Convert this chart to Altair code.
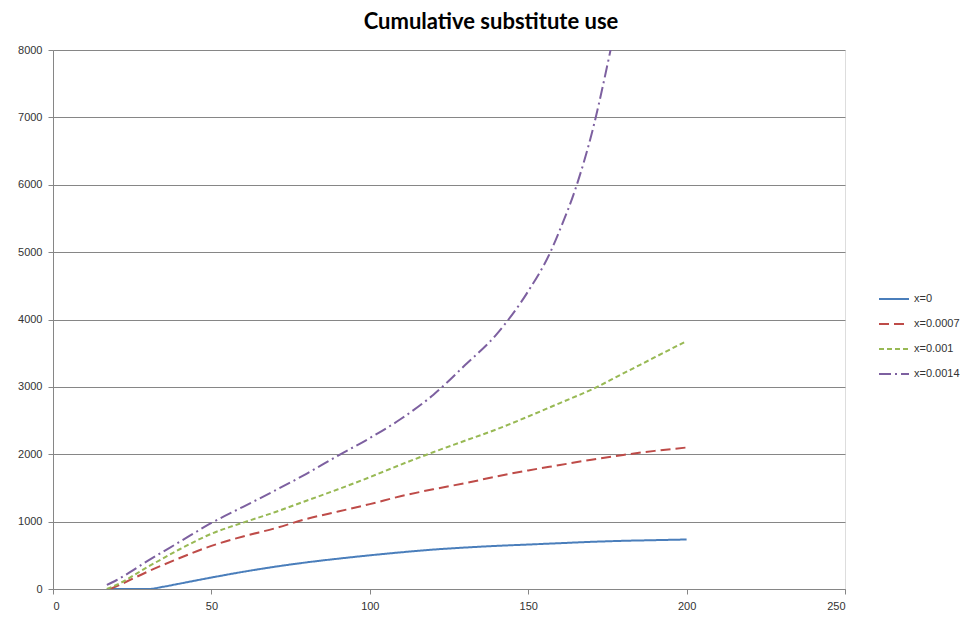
import altair as alt
import pandas as pd

series_names = ["x=0", "x=0.0007", "x=0.001", "x=0.0014"]
colors = ["#4A7EBB", "#BE4B48", "#98B954", "#7D60A0"]
dashes = [[1, 0], [10, 5], [5, 3], [12, 4, 2, 4]]

x0 = [17, 20, 25, 30, 35, 40, 50, 60, 70, 80, 90, 100, 110, 120, 130, 140, 150, 160, 170, 180, 190, 200]
y0 = [0, 0, 0, 0, 35, 80, 170, 255, 330, 395, 450, 500, 545, 585, 615, 640, 660, 680, 700, 715, 725, 735]

x1 = [18, 20, 30, 40, 50, 60, 70, 80, 90, 100, 110, 120, 130, 140, 150, 160, 170, 180, 190, 200]
y1 = [0, 40, 260, 460, 640, 780, 900, 1040, 1150, 1260, 1380, 1480, 1570, 1670, 1760, 1840, 1920, 1990, 2050, 2100]

x2 = [17, 20, 30, 40, 50, 60, 70, 80, 90, 100, 110, 120, 130, 140, 150, 160, 170, 180, 190, 200]
y2 = [0, 60, 330, 590, 820, 985, 1140, 1310, 1480, 1660, 1850, 2030, 2200, 2370, 2560, 2760, 2960, 3200, 3440, 3680]

x3 = [17, 20, 30, 40, 50, 60, 70, 80, 90, 100, 110, 120, 130, 140, 150, 157, 160, 165, 170, 176]
y3 = [60, 130, 420, 700, 980, 1220, 1460, 1710, 1980, 2240, 2530, 2880, 3320, 3780, 4420, 5000, 5330, 5950, 6750, 8000]

rows = []
for name, xs, ys in zip(series_names, [x0, x1, x2, x3], [y0, y1, y2, y3]):
    for i, (a, b) in enumerate(zip(xs, ys)):
        rows.append({"series": name, "t": a, "v": b, "order": i})
df = pd.DataFrame(rows)

font = "Liberation Sans"

legend = alt.Legend(title=None, orient="none", legendX=825, legendY=233,
                    symbolType="stroke", symbolSize=900, symbolStrokeWidth=2,
                    labelFont=font, labelFontSize=11, labelColor="#333333",
                    rowPadding=4, labelOffset=4)

chart = alt.Chart(df).mark_line(strokeWidth=2, clip=True, interpolate="monotone").encode(
    x=alt.X("t:Q", scale=alt.Scale(domain=[0, 250], nice=False),
            axis=alt.Axis(values=[0, 50, 100, 150, 200, 250], grid=False, title=None, format="d",
                          labelFont=font, labelFontSize=11, labelColor="#333333",
                          domainColor="#868686", tickColor="#868686", tickSize=5,
                          labelPadding=6)),
    y=alt.Y("v:Q", scale=alt.Scale(domain=[0, 8000], nice=False),
            axis=alt.Axis(values=[0, 1000, 2000, 3000, 4000, 5000, 6000, 7000, 8000], format="d",
                          grid=True, gridColor="#868686", gridWidth=1, title=None,
                          labelFont=font, labelFontSize=11, labelColor="#333333",
                          domainColor="#868686", tickColor="#868686", tickSize=5,
                          labelPadding=6)),
    color=alt.Color("series:N", scale=alt.Scale(domain=series_names, range=colors), legend=legend),
    strokeDash=alt.StrokeDash("series:N", scale=alt.Scale(domain=series_names, range=dashes), legend=legend),
    order="order:Q",
).properties(
    width=792, height=539,
    title=alt.TitleParams("Cumulative substitute use", font="Lato", fontSize=22, fontWeight="bold",
                          color="#000000", anchor="middle", dx=42, offset=10),
    autosize=alt.AutoSizeParams(type="none"),
    padding={"left": 45, "top": 42, "right": 119, "bottom": 25},
).configure_view(stroke=None).configure(background="white")

chart.save("out.html", embed_options={"renderer": "svg", "actions": False})
